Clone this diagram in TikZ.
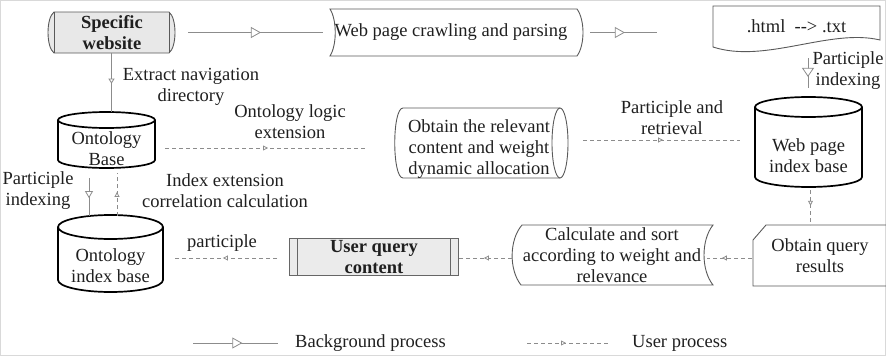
\documentclass[tikz,border=0pt]{standalone}
\usepackage{fontspec}
\setmainfont{Liberation Serif}
\usetikzlibrary{arrows.meta,decorations.markings,calc}
\newcommand\mycyl[5]{%
 \pgfmathsetmacro\myCx{(#1+#2)/2}\pgfmathsetmacro\myRx{(#2-#1)/2}%
 \pgfmathsetmacro\myCt{#3+#5}\pgfmathsetmacro\myCb{#4-#5}%
 \pgfmathsetmacro\myKx{0.552*\myRx}\pgfmathsetmacro\myKy{0.552*#5}%
 \draw[cylb] (#1,\myCt) -- (#1,\myCb) .. controls (#1,\myCb+\myKy) and (\myCx-\myKx,#4) .. (\myCx,#4) .. controls (\myCx+\myKx,#4) and (#2,\myCb+\myKy) .. (#2,\myCb) -- (#2,\myCt);
 \draw[cylb] (\myCx,\myCt) ellipse [x radius=\myRx, y radius=#5];
}
\begin{document}
\begin{tikzpicture}[x=1pt,y=-1pt,
  txt/.style={font=\fontsize{18.5}{21}\selectfont, align=center, text=black!88, inner sep=0pt},
  btxt/.style={txt, font=\fontsize{18.5}{21}\selectfont\bfseries},
  area/.style={inner sep=0pt, outer sep=0pt},
  box/.style={draw=black!65, line width=0.9pt},
  cylb/.style={draw=black, line width=1.7pt},
  conn/.style={draw=black!45, line width=0.8pt},
  usr/.style={conn, dash pattern=on 4pt off 3pt},
  tri/.style args={#1:#2:#3}{postaction={decorate}, decoration={markings, mark=at position #1 with {\arrow{Triangle[length=#2pt,width=#3pt,fill=white,line width=0.8pt]}}}}
]
\useasboundingbox (0,0) rectangle (886,356);
\draw[black!15, line width=1pt] (0.5,0.5) rectangle (885.5,355.5);

% ---- shape areas (named nodes) ----
\node[area, minimum width=127, minimum height=41] (sw) at (111.5,32.5) {};
\node[area, minimum width=253, minimum height=47] (wpc) at (456.5,32.5) {};
\node[area, minimum width=167, minimum height=40] (html) at (796.5,26) {};
\node[area, minimum width=97, minimum height=56] (ob) at (106.5,140) {};
\node[area, minimum width=105, minimum height=77] (oib) at (110.5,253.5) {};
\node[area, minimum width=107, minimum height=90] (wib) at (808.5,142) {};
\node[area, minimum width=173, minimum height=70] (oreel) at (481.5,143) {};
\node[area, minimum width=133, minimum height=61] (oqr) at (819.5,255.5) {};
\node[area, minimum width=201, minimum height=60] (calc) at (612.5,255) {};
\node[area, minimum width=169, minimum height=37] (uqc) at (373.5,256.5) {};

% ---- shapes ----
% Specific website
\fill[black!9] (54,12) -- (169,12) .. controls (177,18) and (177,47) .. (169,53) -- (54,53) .. controls (46,47) and (46,18) .. (54,12) -- cycle;
\draw[box] (54,12) -- (169,12) .. controls (177,18) and (177,47) .. (169,53) -- (54,53) .. controls (46,47) and (46,18) .. (54,12) -- cycle;
\draw[box] (54,12) -- (54,53) (169,12) -- (169,53);
% Web page crawling
\draw[box] (330,9) -- (577,9) .. controls (585,20) and (585,45) .. (577,56) -- (330,56) .. controls (337,45) and (337,20) .. (330,9) -- cycle;
% document
\draw[box] (713,6) -- (880,6) -- (880,40) .. controls (830,28) and (765,64) .. (713,47) -- cycle;
% cylinders
\mycyl{58}{155}{112}{168}{8}
\mycyl{58}{163}{215}{292}{12}
\mycyl{755}{862}{97}{187}{10}
% horizontal cylinder
\draw[box] (560,108) -- (403,108) .. controls (392,108) and (392,178) .. (403,178) -- (560,178);
\draw[box] (560,143) ellipse [x radius=8, y radius=35];
% query results
\draw[box] (887,225) -- (766,225) -- (753,240) -- (753,286) -- (887,286);
% calculate and sort
\draw[box] (522,225) -- (713,225) .. controls (701,240) and (701,270) .. (713,285) -- (521,285) .. controls (509,270) and (509,240) .. (522,225) -- cycle;
% user query content
\filldraw[fill=black!8, draw=black!60, line width=0.9pt] (289,238) rectangle (458,275);
\draw[black!60, line width=0.9pt] (297,238) -- (297,275) (450,238) -- (450,275);

% ---- texts ----
\node[btxt] (swt) at (112,33) {Specific\\website};
\node[txt] (wpct) at (451,32.5) {Web page crawling and parsing};
\node[txt] (htmlt) at (796.5,26) {.html\ \ -{}-{}>\ .txt};
\node[txt] (obt) at (106.5,149) {Ontology\\Base};
\node[txt] (oibt) at (110.5,266) {Ontology\\index base};
\node[txt] (wibt) at (808.5,156) {Web page\\index base};
\node[txt] (oreelt) at (479,149) {Obtain the relevant\\content and weight\\dynamic allocation};
\node[txt] (oqrt) at (820,255.5) {Obtain query\\results};
\node[txt] (calct) at (612,255.5) {Calculate and sort\\according to weight and\\relevance};
\node[btxt] (uqct) at (374,257) {User query\\content};

% labels
\node[txt] (l1) at (191,87) {Extract navigation\\directory};
\node[txt] (l2) at (290,122) {Ontology logic\\extension};
\node[txt] (l3) at (672,118) {Participle and\\retrieval};
\node[txt] (l4) at (848,71) {Participle\\indexing};
\node[txt] (l5) at (38,191) {Participle\\indexing};
\node[txt] (l6) at (225,191) {Index extension\\correlation calculation};
\node[txt] (l7) at (222,243) {participle};

% ---- connectors ----
\draw[conn, tri=0.54:10:11] ([xshift=13pt]sw.east) -- ([xshift=-7pt]wpc.west);
\draw[conn, tri=0.52:10:11] ([xshift=7pt]wpc.east) -- ([shift={(-56,6.5)}]html.west);
\draw[conn, tri=0.63:9:12] ([shift={(11.5,12)}]html.south) -- ([shift={(-0.5,-9)}]wib.north);
\draw[conn, tri=0.52:5:6] (sw.south) -- (sw.south |- ob.north);
\draw[conn, tri=0.53:7:8] ([shift={(-17.5,10)}]ob.south) -- ([shift={(-21.5,1)}]oib.north);
\draw[usr, tri=0.56:5:5] ([shift={(6.5,1)}]oib.north) -- ([shift={(10.5,5)}]ob.south);
\draw[usr, tri=0.51:5:5] ([shift={(10,8)}]ob.east) -- ([shift={(-28,5)}]oreel.west);
\draw[usr, tri=0.51:5:5] ([shift={(15,-3)}]oreel.east) -- ([shift={(-15,-2)}]wib.west);
\draw[usr, tri=0.45:5:5] ([shift={(2,3)}]wib.south) -- ([xshift=-9pt]oqr.north);
\draw[usr, tri=0.67:5:5] ([shift={(-1,2.5)}]oqr.west) -- ([shift={(-6,3)}]calc.east);
\draw[usr, tri=0.52:5:5] ([shift={(0,3)}]calc.west) -- ([shift={(0,1.5)}]uqc.east);
\draw[usr, tri=0.52:5:5] ([shift={(-12,1.5)}]uqc.west) -- ([shift={(10,4.5)}]oib.east);

% ---- legend ----
\coordinate (lg1) at (193,343);
\coordinate (lg2) at (278,343);
\coordinate (lg3) at (527,343);
\coordinate (lg4) at (610,343);
\draw[conn, tri=0.58:10:11] (lg1) -- (lg2);
\draw[usr, tri=0.47:5:5] (lg3) -- (lg4);
\node[txt, anchor=west] (lgt1) at (295,343) {Background process};
\node[txt, anchor=west] (lgt2) at (632,343) {User process};
\end{tikzpicture}
\end{document}
